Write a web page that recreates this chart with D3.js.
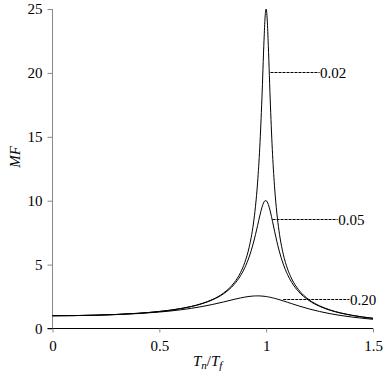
<!DOCTYPE html>
<html>
<head>
<meta charset="utf-8">
<script src="https://cdn.jsdelivr.net/npm/d3@7"></script>
<style>
  body { margin: 0; background: #fff; }
  text { font-family: "Liberation Serif", "Times New Roman", serif; }
</style>
</head>
<body>
<div class="chart"></div>
<script>
var width = 386;
var height = 375;

// frequency ratio Tn/Tf
var ratios = [0, 0.1, 0.2, 0.3, 0.4, 0.5, 0.6, 0.7, 0.75, 0.8, 0.85, 0.88, 0.9, 0.92, 0.94,
  0.95, 0.96, 0.97, 0.98, 0.99, 0.995, 1.0, 1.005, 1.01, 1.02, 1.03, 1.04, 1.05, 1.06, 1.08,
  1.1, 1.12, 1.15, 1.2, 1.25, 1.3, 1.35, 1.4, 1.45, 1.5];

// magnification factor read for each damping ratio
var mf002 = [1, 1.010, 1.042, 1.099, 1.190, 1.333, 1.561, 1.958, 2.280, 2.767, 3.577, 4.380, 5.171, 6.331, 8.175,
  9.556, 11.455, 14.145, 17.947, 22.564, 24.372, 25.0, 24.136, 22.161, 17.416, 13.600, 10.918, 9.028, 7.653, 5.817,
  4.661, 3.871, 3.070, 2.259, 1.771, 1.445, 1.213, 1.040, 0.906, 0.799];
var mf005 = [1, 1.010, 1.041, 1.098, 1.189, 1.330, 1.556, 1.943, 2.253, 2.712, 3.446, 4.130, 4.757, 5.585, 6.684,
  7.346, 8.068, 8.804, 9.461, 9.903, 10.0, 10.0, 9.901, 9.711, 9.115, 8.357, 7.565, 6.815, 6.141, 5.041,
  4.218, 3.598, 2.921, 2.193, 1.736, 1.424, 1.200, 1.031, 0.899, 0.794];
var mf020 = [1, 1.009, 1.038, 1.090, 1.170, 1.288, 1.463, 1.719, 1.885, 2.076, 2.279, 2.392, 2.457, 2.508, 2.541,
  2.549, 2.552, 2.548, 2.538, 2.522, 2.512, 2.5, 2.487, 2.472, 2.439, 2.401, 2.359, 2.313, 2.264, 2.160,
  2.051, 1.941, 1.780, 1.536, 1.329, 1.157, 1.016, 0.900, 0.803, 0.721];

var seriesNames = ["0.02", "0.05", "0.20"];
var seriesValues = [mf002, mf005, mf020];

// leader lines: start ratio, end ratio, MF level
var leaderFrom = [1.02, 1.03, 1.08];
var leaderTo = [1.25, 1.335, 1.39];
var leaderMF = [20, 8.5, 2.25];

var xTicks = [0, 0.5, 1, 1.5];
var xTickLabels = ["0", "0.5", "1", "1.5"];
var yTicks = [0, 5, 10, 15, 20, 25];

var svg = d3
  .select(".chart")
  .append("svg")
  .attr("width", width)
  .attr("height", height);

var x = d3.scaleLinear().domain([0, 1.5]).range([52.5, 373]);
var y = d3.scaleLinear().domain([0, 25]).range([328.5, 9]);

// y axis (grey)
var yAxis = svg
  .append("g")
  .attr("transform", "translate(52.5,0)")
  .call(d3.axisLeft(y).tickValues(yTicks).tickSize(5).tickPadding(5));
yAxis.select(".domain").attr("stroke", "#888").attr("d", "M0," + y(0) + "V" + y(25));
yAxis.selectAll(".tick line").attr("stroke", "#888");
yAxis.selectAll("text").style("font-size", "15px").attr("fill", "#000");

// x axis (black line, grey ticks)
var xAxis = svg
  .append("g")
  .attr("transform", "translate(0,328.5)")
  .call(
    d3.axisBottom(x)
      .tickValues(xTicks)
      .tickFormat(function (d, i) { return xTickLabels[i]; })
      .tickSize(4)
      .tickPadding(8)
  );
xAxis.select(".domain").attr("stroke", "#000").attr("d", "M" + (x(0) - 5) + ",0H" + x(1.5));
xAxis.selectAll(".tick line").attr("stroke", "#888");
xAxis.selectAll("text").style("font-size", "15px").attr("fill", "#000");

// curves
var line = d3
  .line()
  .x(function (d) { return x(d[0]); })
  .y(function (d) { return y(d[1]); })
  .curve(d3.curveMonotoneX);

seriesValues.forEach(function (vals) {
  svg
    .append("path")
    .datum(ratios.map(function (r, i) { return [r, vals[i]]; }))
    .attr("fill", "none")
    .attr("stroke", "#000")
    .attr("stroke-width", 1)
    .attr("d", line);
});

// leader lines and labels
seriesNames.forEach(function (name, i) {
  var ly = Math.floor(y(leaderMF[i])) + 0.5;
  svg
    .append("line")
    .attr("x1", x(leaderFrom[i]))
    .attr("x2", x(leaderTo[i]))
    .attr("y1", ly)
    .attr("y2", ly)
    .attr("stroke", "#000")
    .attr("stroke-width", 1)
    .attr("stroke-dasharray", "3,1");
  svg
    .append("text")
    .attr("x", x(leaderTo[i]) + 0.5)
    .attr("y", ly + 5)
    .style("font-size", "15px")
    .text(name);
});

// axis titles
svg
  .append("text")
  .attr("transform", "translate(20,157) rotate(-90)")
  .style("text-anchor", "middle")
  .style("font-size", "15px")
  .style("font-style", "italic")
  .text("MF");

var xt = svg
  .append("text")
  .attr("x", 193)
  .attr("y", 366)
  .style("font-size", "15px")
  .style("font-style", "italic");
xt.append("tspan").text("T");
xt.append("tspan").attr("dy", 3).style("font-size", "11px").text("n");
xt.append("tspan").attr("dy", -3).style("font-style", "normal").text("/");
xt.append("tspan").text("T");
xt.append("tspan").attr("dy", 3).style("font-size", "11px").text("f");
</script>
</body>
</html>
